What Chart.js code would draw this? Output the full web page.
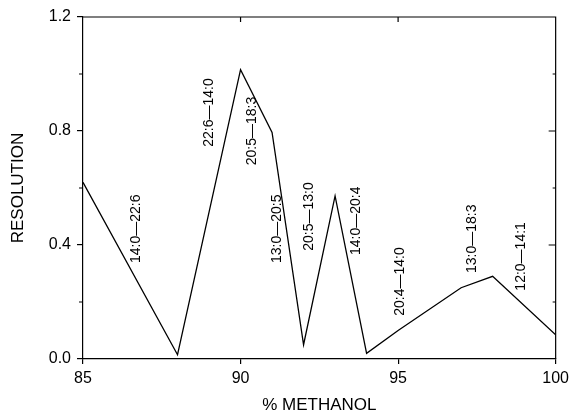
<!DOCTYPE html>
<html>
<head>
<meta charset="utf-8">
<script src="https://cdn.jsdelivr.net/npm/chart.js@4"></script>
<style>
  body { margin: 0; background: #fff; }
  canvas { display: block; }
</style>
</head>
<body>
<canvas id="mychart" width="574" height="414"></canvas>
<script>
// % methanol vs resolution
let methanol = [85, 88, 90, 91, 92, 93, 94, 95, 97, 98, 100]
let resolution = [0.62, 0.015, 1.015, 0.795, 0.05, 0.572, 0.02, 0.1, 0.25, 0.29, 0.085]

// pair labels, anchored at (methanol, resolution) of the label centre
let pairText = ['14:0\u201422:6', '22:6\u201414:0', '20:5\u201418:3', '13:0\u201420:5', '20:5\u201413:0',
                '14:0\u201420:4', '20:4\u201414:0', '13:0\u201418:3', '12:0\u201414:1']
let pairX = [86.68, 88.99, 90.38, 91.17, 92.18, 93.67, 95.06, 97.34, 98.89]
let pairY = [0.457, 0.865, 0.80, 0.457, 0.50, 0.485, 0.272, 0.422, 0.36]

let xTicks = [85, 90, 95, 100]
let yTicks = [0.0, 0.4, 0.8, 1.2]
let yMinor = [0.2, 0.6, 1.0]

const FONT = 'Liberation Sans, Arial, sans-serif'

let points = methanol.map((m, i) => ({x: m, y: resolution[i]}))

// frame, inner ticks and pair labels
let extras = {
    id: 'extras',
    afterDraw(chart) {
        let ctx = chart.ctx
        let a = chart.chartArea
        let xs = chart.scales.x
        let ys = chart.scales.y
        ctx.save()
        ctx.strokeStyle = '#000'
        ctx.lineWidth = 1.2
        ctx.beginPath()
        ctx.moveTo(a.left, a.top)
        ctx.lineTo(a.right, a.top)
        ctx.lineTo(a.right, a.bottom)
        ctx.stroke()

        ctx.beginPath()
        // top ticks, inward
        xTicks.slice(1, -1).forEach(v => {
            let px = xs.getPixelForValue(v)
            ctx.moveTo(px, a.top)
            ctx.lineTo(px, a.top + 5)
        })
        // right ticks, inward
        yTicks.slice(1, -1).forEach(v => {
            let py = ys.getPixelForValue(v)
            ctx.moveTo(a.right, py)
            ctx.lineTo(a.right - 7, py)
        })
        yMinor.forEach(v => {
            let py = ys.getPixelForValue(v)
            ctx.moveTo(a.right, py)
            ctx.lineTo(a.right - 3, py)
            ctx.moveTo(a.left, py)
            ctx.lineTo(a.left - 4, py)
        })
        ctx.stroke()

        ctx.fillStyle = '#000'
        ctx.font = '14px ' + FONT
        ctx.textAlign = 'center'
        ctx.textBaseline = 'middle'
        pairText.forEach((t, i) => {
            ctx.save()
            ctx.translate(xs.getPixelForValue(pairX[i]), ys.getPixelForValue(pairY[i]))
            ctx.rotate(-Math.PI / 2)
            ctx.fillText(t, 0, 0)
            ctx.restore()
        })
        ctx.restore()
    }
}

let ctx = document.getElementById('mychart').getContext('2d')
let mychart = new Chart(ctx, {
    type: 'line',
    data: {
        datasets: [{
            data: points,
            borderColor: '#000',
            borderWidth: 1.3,
            pointRadius: 0,
            tension: 0,
            fill: false,
        }],
    },
    options: {
        responsive: false,
        animation: false,
        layout: { padding: { top: 17, right: 18, left: 0, bottom: 0 } },
        plugins: { legend: { display: false }, tooltip: { enabled: false } },
        scales: {
            x: {
                type: 'linear',
                min: 85,
                max: 100,
                afterBuildTicks: s => { s.ticks = xTicks.map(v => ({value: v})) },
                afterFit: s => { s.height = 55 },
                ticks: { color: '#000', font: { family: FONT, size: 16 }, padding: 5,
                         maxRotation: 0, callback: v => String(v) },
                grid: { drawOnChartArea: false, drawTicks: true, tickLength: 5, color: '#000', lineWidth: 1.2 },
                border: { display: true, color: '#000', width: 1.2 },
                title: { display: true, text: '% METHANOL', color: '#000',
                         font: { family: FONT, size: 17, lineHeight: 1 }, padding: 0 },
            },
            y: {
                min: 0,
                max: 1.2,
                afterBuildTicks: s => { s.ticks = yTicks.map(v => ({value: v})) },
                afterFit: s => { s.width = 83 },
                ticks: { color: '#000', font: { family: FONT, size: 16 }, padding: 6,
                         callback: v => v.toFixed(1) },
                grid: { drawOnChartArea: false, drawTicks: true, tickLength: 6, color: '#000', lineWidth: 1.2 },
                border: { display: true, color: '#000', width: 1.2 },
                title: { display: true, text: 'RESOLUTION', color: '#000',
                         font: { family: FONT, size: 17, lineHeight: 1 }, padding: { top: 10, bottom: 0 } },
            },
        },
    },
    plugins: [extras],
})
</script>
</body>
</html>
